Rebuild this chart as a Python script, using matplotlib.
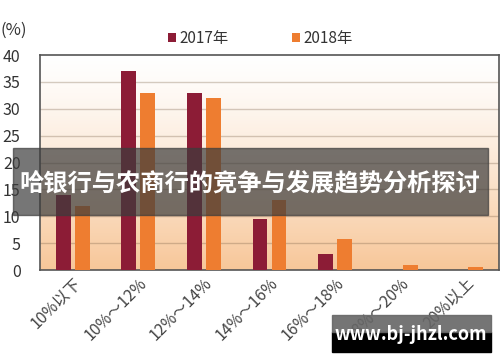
import numpy as np
import matplotlib.pyplot as plt
from matplotlib.patches import Rectangle

plt.rcParams['font.family'] = ['Noto Sans CJK SC', 'DejaVu Sans']

categories = ['10%以下', '10%～12%', '12%～14%', '14%～16%', '16%～18%', '18%～20%', '20%以上']
y2017 = [14, 37, 33, 9.5, 3, 0, 0]
y2018 = [12, 33, 32, 13, 5.8, 1, 0.5]

c2017 = '#8c1c36'
c2018 = '#ee7d30'

fig = plt.figure(figsize=(5, 3.62), dpi=100)
ax = fig.add_axes([0.08, 0.254, 0.918, 0.594])

# peach gradient background
grad = np.linspace(0, 1, 256).reshape(-1, 1)
top = np.array([1.0, 1.0, 1.0])
bot = np.array([0.97, 0.78, 0.60])
img = top + (bot - top) * grad[::-1] ** 1.3
ax.imshow(img.reshape(256, 1, 3), extent=[-0.5, 6.5, 0, 40], aspect='auto',
          origin='lower', zorder=0)

x = np.arange(len(categories))
w = 0.225
ax.bar(x - 0.145, y2017, w, color=c2017, label='2017年', zorder=3)
ax.bar(x + 0.145, y2018, w, color=c2018, label='2018年', zorder=3)

ax.set_xlim(-0.5, 6.5)
ax.set_ylim(0, 40)
ax.set_yticks(range(0, 41, 5))
for v in range(5, 40, 5):
    ax.axhline(v, color=(0.45, 0.35, 0.25, 0.3), lw=1, zorder=1)

ax.set_xticks(x)
ax.set_xticklabels(categories, rotation=45, ha='right', rotation_mode='anchor',
                   fontsize=11.5, color='#444444', fontweight='light')
ax.tick_params(axis='both', length=0)
ax.tick_params(axis='y', pad=14, labelsize=11.5, labelcolor='#333333')
for s in ax.spines.values():
    s.set_color('#555555')
    s.set_linewidth(1.2)

fig.text(0.0, 0.915, '(%)', fontsize=12, color='#333333', va='center')
ax.legend(loc='lower center', bbox_to_anchor=(0.48, 0.975), ncol=2, frameon=False,
          fontsize=11, handlelength=0.5, handleheight=0.5, handletextpad=0.2,
          columnspacing=4.2, labelcolor='#333333')

# overlay banner
fig.patches.append(Rectangle((13 / 500, 1 - 215 / 362), 475 / 500, 67 / 362,
                             transform=fig.transFigure, color='#3c3c3c',
                             alpha=0.7, zorder=10))
fig.text(0.5, 1 - 183 / 362, '哈银行与农商行的竞争与发展趋势分析探讨',
         ha='center', va='center', color='white', fontsize=17.5,
         fontweight='bold', zorder=11)

# watermark
fig.patches.append(Rectangle((332 / 500, 1 - 352 / 362), 159 / 500, 20 / 362,
                             transform=fig.transFigure, color='black', zorder=10))
fig.patches.append(Rectangle((332 / 500, 1 - 332 / 362), 159 / 500, 17 / 362,
                             transform=fig.transFigure, color='#666666',
                             alpha=0.9, zorder=10))
fig.text(411 / 500, 1 - 335 / 362, 'www.bj-jhzl.com', ha='center', va='center',
         color='white', fontsize=13, fontweight='bold', zorder=11)

fig.savefig('out.png', dpi=100)
